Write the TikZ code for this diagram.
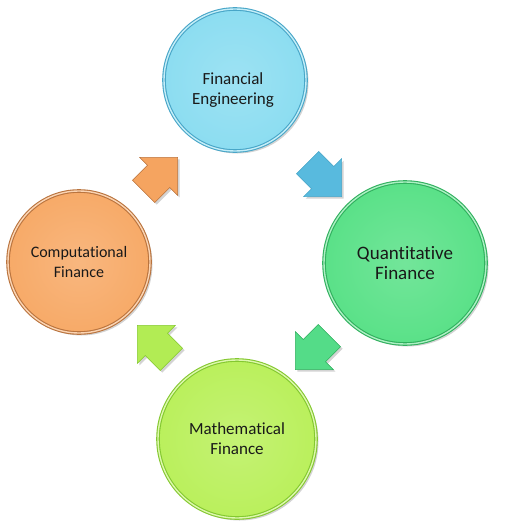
\documentclass[tikz,border=0pt]{standalone}
\usepackage{fontspec}
\setmainfont[Ligatures=CommonOff]{Carlito}
\usepackage{tikz}
\usetikzlibrary{shapes.arrows,shadows}
\usepackage{color}
\definecolor{cyanfill}{RGB}{140,221,241}
\definecolor{cyanrim}{RGB}{72,166,200}
\definecolor{cyanarrow}{RGB}{88,186,222}
\definecolor{greenfill}{RGB}{90,225,136}
\definecolor{greenrim}{RGB}{48,176,94}
\definecolor{greenarrow}{RGB}{84,220,136}
\definecolor{orangefill}{RGB}{247,170,104}
\definecolor{orangerim}{RGB}{186,116,62}
\definecolor{orangearrow}{RGB}{245,164,96}
\definecolor{limefill}{RGB}{186,240,92}
\definecolor{limerim}{RGB}{132,200,48}
\definecolor{limearrow}{RGB}{178,236,84}
\newcommand{\fsize}[1]{\fontsize{#1}{20}\selectfont}
\tikzset{
	bubble/.style={circle, draw=#1rim, line width=1.1pt, double=#1fill!50!white,
		double distance=1.4pt, inner color=#1fill!85!white, outer color=#1fill,
		align=center, inner sep=0pt, text=black!90,
		drop shadow={opacity=0.35, shadow xshift=2.5pt, shadow yshift=-2.5pt}},
	flow/.style={single arrow, draw=#1rim, line width=0.5pt, fill=#1arrow,
		minimum height=48pt, inner xsep=0pt, inner ysep=15.5pt, single arrow head extend=11pt,
		drop shadow={opacity=0.35, shadow xshift=2pt, shadow yshift=-2pt}}
}
\begin{document}
\begin{tikzpicture}[x=1pt,y=-1pt]
		\useasboundingbox (0,0) rectangle (505,532);
		\node[bubble=cyan, minimum size=142pt,
			label={[font=\fsize{17}, align=center, text=black!90, xshift=-2pt, yshift=-10pt]center:Financial\\Engineering}] (FE) at (235,80) {};
		\node[bubble=green, minimum size=162pt, font=\fsize{19}] (QF) at (405,263) {Quantitative\\Finance};
		\node[bubble=lime, minimum size=158pt, font=\fsize{17}] (MF) at (237,439) {Mathematical\\Finance};
		\node[bubble=orange, minimum size=142pt, font=\fsize{16}] (CF) at (79,262) {Computational\\Finance};
		\node[flow=cyan, rotate=-45] (FEQF) at (319,174) {};
		\node[flow=green, rotate=-135] (QFMF) at (318,347) {};
		\node[flow=lime, rotate=135] (MFCF) at (160,348) {};
		\node[flow=orange, rotate=45] (CFFE) at (155,180) {};
	\end{tikzpicture}
\end{document}
